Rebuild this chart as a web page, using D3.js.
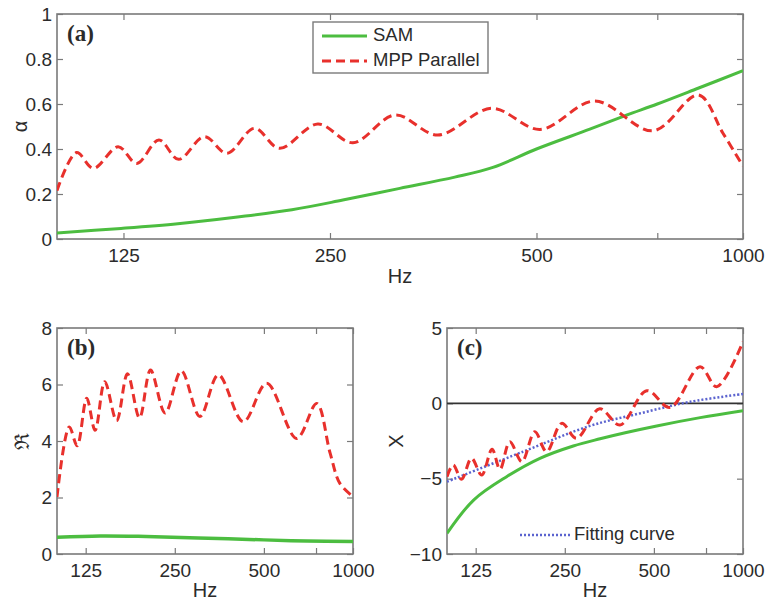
<!DOCTYPE html>
<html>
<head>
<meta charset="utf-8">
<script src="https://cdn.jsdelivr.net/npm/d3@7"></script>
<style>
  body { margin: 0; background: #fff; }
  text { font-family: "Liberation Sans", Arial, sans-serif; fill: #2b2b2b; }
  .panel-label { font-family: "Liberation Serif", "Times New Roman", serif; font-weight: bold; }
</style>
</head>
<body>
<div id="chart"></div>
<script>
// frequency ticks (log axis), 750 gets a tick but no label
var freqTicks = [125, 250, 500, 750, 1000];
var freqLabels = ['125', '250', '500', '', '1000'];

// (a) absorption coefficient
var samAlphaHz = [100, 124, 150, 182, 220, 261, 316, 380, 432, 500, 598, 676, 750, 860, 1000];
var samAlpha = [0.027, 0.047, 0.068, 0.097, 0.13, 0.173, 0.225, 0.275, 0.318, 0.4, 0.488, 0.55, 0.6, 0.67, 0.748];
var mppAlphaHz = [100, 106.8, 113, 122.8, 130.7, 140.8, 150.4, 164, 177, 194, 211, 240, 270, 311, 359, 430, 506, 608, 740, 861, 935, 1000];
var mppAlpha = [0.215, 0.384, 0.314, 0.41, 0.336, 0.44, 0.354, 0.455, 0.381, 0.492, 0.403, 0.511, 0.428, 0.551, 0.462, 0.581, 0.487, 0.613, 0.481, 0.64, 0.47, 0.324];

// (b) resistance
var samReHz = [100, 140, 200, 300, 500, 700, 1000];
var samRe = [0.59, 0.64, 0.62, 0.57, 0.5, 0.46, 0.44];
var mppReHz = [100, 110, 117, 126, 134.5, 145, 159, 173, 190, 207, 232, 263, 304, 351, 426, 511, 645, 754, 837, 903, 1000];
var mppRe = [2.02, 4.5, 3.83, 5.51, 4.38, 6.1, 4.72, 6.38, 4.82, 6.51, 4.99, 6.48, 4.87, 6.34, 4.68, 6.04, 4.09, 5.33, 3.57, 2.5, 2.03];

// (c) reactance
var samXHz = [100, 123, 159, 206, 267, 329, 400, 511, 717, 1000];
var samX = [-8.63, -6.42, -4.87, -3.65, -2.83, -2.35, -1.95, -1.5, -0.95, -0.49];
var mppXHz = [100, 105, 112, 121, 131, 142, 151, 163, 179, 198, 217, 244, 274, 328, 384, 473, 567, 716, 815, 1000];
var mppX = [-4.87, -4.09, -5.04, -3.65, -4.76, -3.05, -4.38, -2.55, -3.87, -1.88, -3.21, -1.33, -2.32, -0.36, -1.44, 0.84, -0.27, 2.43, 1.1, 4.09];
var fitXHz = [100, 181, 304, 450, 662, 1000];
var fitX = [-5.2, -3.2, -1.5, -0.66, 0.1, 0.62];

var GREEN = '#4cbd40', RED = '#e8302c', BLUE = '#5b63cf', AXIS = '#7a7a7a';

var svg = d3.select('#chart').append('svg')
  .attr('width', 765)
  .attr('height', 602);

function zip(xs, ys) {
  return xs.map(function (x, i) { return { f: x, v: ys[i] }; });
}

// one matlab-like panel: box, inward ticks on all four sides
function drawPanel(p) {
  var width = p.right - p.left, height = p.bottom - p.top;
  var g = svg.append('g').attr('transform', 'translate(' + p.left + ',' + p.top + ')');

  var x = d3.scaleLog().domain([100, 1000]).range([0, width]);
  var y = d3.scaleLinear().domain(p.yDomain).range([height, 0]);

  g.append('clipPath').attr('id', 'clip-' + p.id)
    .append('rect').attr('width', width).attr('height', height);

  var bottom = g.append('g').attr('transform', 'translate(0,' + height + ')')
    .call(d3.axisBottom(x).tickValues(freqTicks).tickSize(-6).tickSizeOuter(0).tickPadding(9.5)
      .tickFormat(function (d, i) { return freqLabels[i]; }));
  var top = g.append('g')
    .call(d3.axisTop(x).tickValues(freqTicks).tickSize(-6).tickSizeOuter(0).tickFormat(''));
  var left = g.append('g')
    .call(d3.axisLeft(y).tickValues(p.yTicks).tickSize(-6).tickSizeOuter(0).tickPadding(5)
      .tickFormat(p.yFormat || d3.format('')));
  var right = g.append('g').attr('transform', 'translate(' + width + ',0)')
    .call(d3.axisRight(y).tickValues(p.yTicks).tickSize(-6).tickSizeOuter(0).tickFormat(''));

  [bottom, top, left, right].forEach(function (a) {
    a.select('.domain').remove();
    a.selectAll('line').attr('stroke', AXIS).attr('stroke-width', 1.2);
    a.selectAll('text').style('font-size', '19px').attr('fill', '#2b2b2b');
  });

  g.append('rect')
    .attr('width', width).attr('height', height)
    .attr('fill', 'none').attr('stroke', AXIS).attr('stroke-width', 1.6);

  var line = d3.line()
    .x(function (d) { return x(d.f); })
    .y(function (d) { return y(d.v); })
    .curve(d3.curveCatmullRom.alpha(0.5));

  var plot = g.append('g').attr('clip-path', 'url(#clip-' + p.id + ')');

  if (p.zeroLine) {
    plot.append('line')
      .attr('x1', 0).attr('x2', width)
      .attr('y1', y(0)).attr('y2', y(0))
      .attr('stroke', '#333').attr('stroke-width', 1.6);
  }

  p.series.forEach(function (s) {
    plot.append('path')
      .datum(zip(s.hz, s.values))
      .attr('d', line)
      .attr('fill', 'none')
      .attr('stroke', s.color)
      .attr('stroke-width', s.width)
      .attr('stroke-dasharray', s.dash || null);
  });

  // axis labels (xLabelY is measured from the bottom of the box)
  g.append('text')
    .attr('x', width / 2).attr('y', height + p.xLabelY)
    .attr('text-anchor', 'middle')
    .style('font-size', '20px')
    .text('Hz');
  g.append('text')
    .attr('transform', 'translate(' + p.yLabelX + ',' + (height / 2) + ') rotate(-90)')
    .attr('text-anchor', 'middle')
    .attr('dominant-baseline', 'middle')
    .style('font-size', '20px')
    .text(p.yLabel);

  g.append('text')
    .attr('class', 'panel-label')
    .attr('x', 10).attr('y', 27)
    .style('font-size', '23px')
    .text(p.label);

  return { g: g, x: x, y: y };
}

var dashRed = '9,5';

var pa = drawPanel({
  id: 'a', left: 57, top: 14, right: 743, bottom: 239,
  yDomain: [0, 1], yTicks: [0, 0.2, 0.4, 0.6, 0.8, 1],
  yLabel: 'α', yLabelX: -35, xLabelY: 44, label: '(a)',
  series: [
    { hz: samAlphaHz, values: samAlpha, color: GREEN, width: 3 },
    { hz: mppAlphaHz, values: mppAlpha, color: RED, width: 3, dash: dashRed }
  ]
});

var pb = drawPanel({
  id: 'b', left: 57, top: 328, right: 353, bottom: 554,
  yDomain: [0, 8], yTicks: [0, 2, 4, 6, 8],
  yLabel: 'ℜ', yLabelX: -33, xLabelY: 43, label: '(b)',
  series: [
    { hz: samReHz, values: samRe, color: GREEN, width: 3.5 },
    { hz: mppReHz, values: mppRe, color: RED, width: 3, dash: dashRed }
  ]
});

var pc = drawPanel({
  id: 'c', left: 447, top: 328, right: 743, bottom: 554,
  yDomain: [-10, 5], yTicks: [-10, -5, 0, 5],
  yLabel: 'X', yLabelX: -49, xLabelY: 43, label: '(c)', zeroLine: true,
  series: [
    { hz: samXHz, values: samX, color: GREEN, width: 3 },
    { hz: fitXHz, values: fitX, color: BLUE, width: 2.5, dash: '2,2' },
    { hz: mppXHz, values: mppX, color: RED, width: 3, dash: dashRed }
  ]
});

// legend in (a)
var legA = pa.g.append('g').attr('transform', 'translate(' + (313 - 57) + ',' + (22 - 14) + ')');
legA.append('rect')
  .attr('width', 175).attr('height', 51)
  .attr('fill', '#fff').attr('stroke', AXIS).attr('stroke-width', 1.4);
var legItems = [
  { name: 'SAM', color: GREEN, dash: null },
  { name: 'MPP Parallel', color: RED, dash: dashRed }
];
legItems.forEach(function (d, i) {
  var yy = 14 + i * 25;
  legA.append('line')
    .attr('x1', 9).attr('x2', 54).attr('y1', yy).attr('y2', yy)
    .attr('stroke', d.color).attr('stroke-width', 3)
    .attr('stroke-dasharray', d.dash);
  legA.append('text')
    .attr('x', 60).attr('y', yy)
    .attr('dominant-baseline', 'middle')
    .style('font-size', '18.5px')
    .text(d.name);
});

// "Fitting curve" key in (c), no box
var legC = pc.g.append('g').attr('transform', 'translate(' + (520 - 447) + ',' + (535 - 328) + ')');
legC.append('line')
  .attr('x1', 0).attr('x2', 50).attr('y1', 0).attr('y2', 0)
  .attr('stroke', BLUE).attr('stroke-width', 2.5).attr('stroke-dasharray', '2,2');
legC.append('text')
  .attr('x', 54).attr('y', 0)
  .attr('dominant-baseline', 'middle')
  .style('font-size', '18.5px')
  .text('Fitting curve');
</script>
</body>
</html>
